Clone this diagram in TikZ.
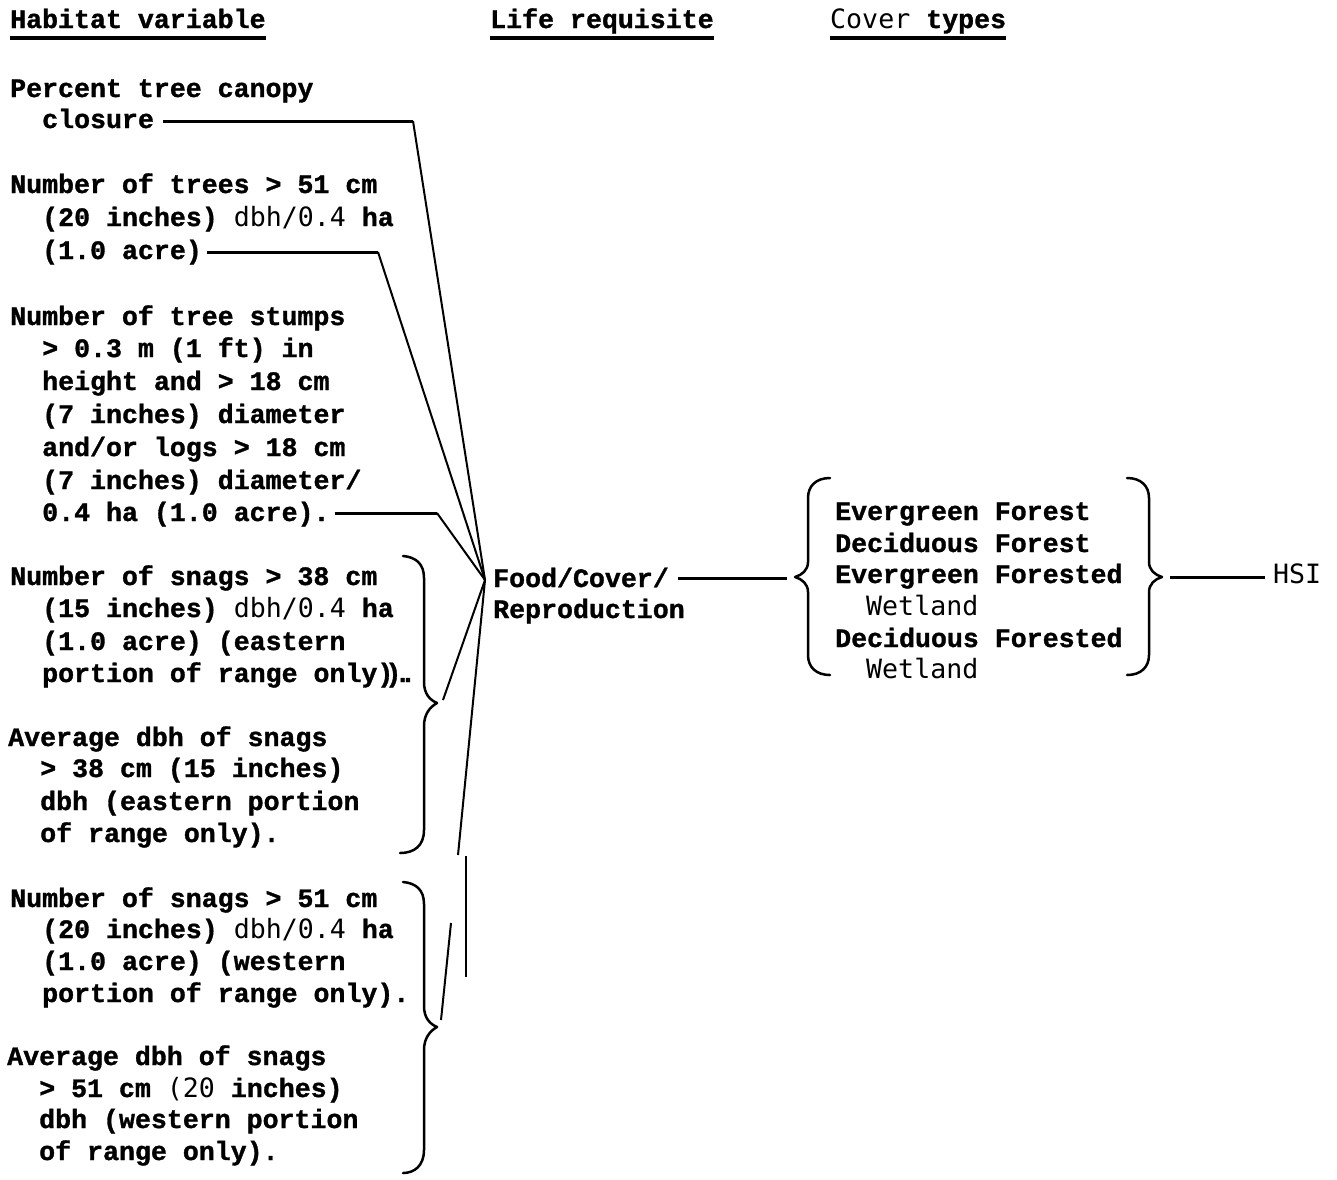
\documentclass[tikz,border=0pt]{standalone}
\usepackage{fontspec}
\newfontfamily\monofam{Liberation Mono}[BoldFeatures={FakeBold=1.2}]
\newfontfamily\lightfam{DejaVu Sans Mono}
\newcommand\lgt[1]{{\lightfam\mdseries #1}}
\tikzset{
  txt/.style={font=\monofam\bfseries\fontsize{26.6}{32}\selectfont, inner sep=0pt, anchor=base west},
  hline/.style={line width=3pt},
  dline/.style={line width=2pt},
  brace/.style={line width=2.5pt, line cap=round, line join=round},
  uline/.style={line width=3.5pt},
}
\begin{document}
\begin{tikzpicture}[x=1pt,y=-1pt]
\useasboundingbox (0,0) rectangle (1337,1179);

% headers
\node[txt] (hab) at (10,28) {Habitat variable};
\node[txt] (life) at (490,28) {Life requisite};
\node[txt] (cov) at (830,28) {\lgt{Cover} types};
\draw[uline] ([yshift=-10pt]hab.base west) -- ([yshift=-10pt]hab.base east);
\draw[uline] ([yshift=-10pt]life.base west) -- ([yshift=-10pt]life.base east);
\draw[uline] ([yshift=-10pt]cov.base west) -- ([yshift=-10pt]cov.base east);

% habitat variables
\node[txt] (p1) at (10,97) {Percent tree canopy};
\node[txt] (p2) at (42,128) {closure};

\node[txt] (t1) at (10,193) {Number of trees > 51 cm};
\node[txt] (t2) at (42,226) {(20 inches) \lgt{dbh/0.4} ha};
\node[txt] (t3) at (42,259) {(1.0 acre)};

\node[txt] (s1) at (10,325) {Number of tree stumps};
\node[txt] (s2) at (42,357) {> 0.3 m (1 ft) in};
\node[txt] (s3) at (42,390) {height and > 18 cm};
\node[txt] (s4) at (42,423) {(7 inches) diameter};
\node[txt] (s5) at (42,456) {and/or logs > 18 cm};
\node[txt] (s6) at (42,489) {(7 inches) diameter/};
\node[txt] (s7) at (42,521) {0.4 ha (1.0 acre).};

\node[txt] (e1) at (10,585) {Number of snags > 38 cm};
\node[txt] (e2) at (42,617) {(15 inches) \lgt{dbh/0.4} ha};
\node[txt] (e3) at (42,650) {(1.0 acre) (eastern};
\node[txt] (e4) at (42,682) {portion of range only)\kern-0.3em)\kern-0.25em.\kern-0.4em.};

\node[txt] (a1) at (8,746) {Average dbh of snags};
\node[txt] (a2) at (40,777) {> 38 cm (15 inches)};
\node[txt] (a3) at (40,810) {dbh (eastern portion};
\node[txt] (a4) at (40,842) {of range only).};

\node[txt] (w1) at (10,907) {Number of snags > 51 cm};
\node[txt] (w2) at (42,938) {(20 inches) \lgt{dbh/0.4} ha};
\node[txt] (w3) at (42,970) {(1.0 acre) (western};
\node[txt] (w4) at (42,1002) {portion of range only).};

\node[txt] (b1) at (7,1065) {Average dbh of snags};
\node[txt] (b2) at (39,1097) {> 51 cm \lgt{(20} inches)};
\node[txt] (b3) at (39,1128) {dbh (western portion};
\node[txt] (b4) at (39,1160) {of range only).};

% life requisite
\node[txt] (f1) at (493,587) {Food/Cover/};
\node[txt] (f2) at (493,618) {Reproduction};

% cover types
\node[txt] (c1) at (835,520) {Evergreen Forest};
\node[txt] (c2) at (835,552) {Deciduous Forest};
\node[txt] (c3) at (835,583) {Evergreen Forested};
\node[txt] (c4) at (866,615) {\lgt{Wetland}};
\node[txt] (c5) at (835,647) {Deciduous Forested};
\node[txt] (c6) at (866,678) {\lgt{Wetland}};

\node[txt] (hsi) at (1273,583) {\lgt{HSI}};

% coordinates
\coordinate (hub) at (485,580);
\coordinate (k1) at (413,121);
\coordinate (k2) at (378,252);
\coordinate (k3) at (437,513);
\coordinate (q1) at (443,700);
\coordinate (q2) at (458,855);
\coordinate (v1) at (466,856);
\coordinate (v2) at (466,977);
\coordinate (r1) at (441,1020);
\coordinate (r2) at (451,923);
\coordinate (cl) at (787,578);
\coordinate (hs) at (1170,577);

% connectors
\draw[hline] ([xshift=9pt,yshift=7pt]p2.base east) -- (k1);
\draw[dline] (k1) -- (hub);
\draw[hline] ([xshift=5pt,yshift=7pt]t3.base east) -- (k2);
\draw[dline] (k2) -- (hub);
\draw[hline] ([xshift=5pt,yshift=8pt]s7.base east) -- (k3);
\draw[dline] (k3) -- (hub);
\draw[dline] (q1) -- (hub);
\draw[dline] (q2) -- (hub);
\draw[dline] (v1) -- (v2);
\draw[dline] (r1) -- (r2);
\draw[hline] ([xshift=9pt,yshift=9pt]f1.base east) -- (cl);
\draw[hline] (hs) -- ([xshift=-8pt,yshift=6pt]hsi.base west);

% braces
\draw[brace] (403,556) .. controls (416,557) and (424,564) .. (424,578) -- (424,682)
  .. controls (424,694) and (430,700) .. (437,703)
  .. controls (430,707) and (424,714) .. (424,726) -- (424,830)
  .. controls (424,846) and (414,853) .. (400,853);
\draw[brace] (403,882) .. controls (416,883) and (424,890) .. (424,904) -- (424,1006)
  .. controls (424,1018) and (430,1024) .. (437,1027)
  .. controls (430,1031) and (424,1038) .. (424,1050) -- (424,1150)
  .. controls (424,1166) and (414,1173) .. (403,1173);
\draw[brace] (830,478) .. controls (816,478) and (808,486) .. (808,498) -- (808,562)
  .. controls (808,570) and (802,575) .. (795,577)
  .. controls (802,579) and (808,584) .. (808,592) -- (808,655)
  .. controls (808,667) and (816,675) .. (830,675);
\draw[brace] (1127,478) .. controls (1141,478) and (1149,486) .. (1149,498) -- (1149,562)
  .. controls (1149,570) and (1155,575) .. (1162,577)
  .. controls (1155,579) and (1149,584) .. (1149,592) -- (1149,655)
  .. controls (1149,667) and (1141,675) .. (1127,675);
\end{tikzpicture}
\end{document}
